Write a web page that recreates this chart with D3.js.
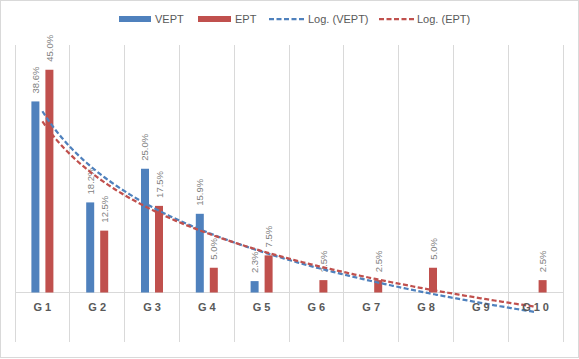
<!DOCTYPE html>
<html><head><meta charset="utf-8">
<script src="https://cdn.jsdelivr.net/npm/d3@7"></script>
<style>body{margin:0;background:#fff}svg{display:block}text{font-family:"Liberation Sans",Arial,sans-serif}</style>
</head><body>
<svg id="c" width="579" height="359"></svg>
<script>
const categories = ["G1","G2","G3","G4","G5","G6","G7","G8","G9","G10"];
const seriesNames = ["VEPT","EPT"];
const vept = [38.6, 18.2, 25.0, 15.9, 2.3, 0, 0, 0, 0, 0];
const ept  = [45.0, 12.5, 17.5, 5.0, 7.5, 2.5, 2.5, 5.0, 0, 2.5];
const colors = {VEPT:"#4f81bd", EPT:"#c0504d"};
const yDomain = [-10, 50];

const svg = d3.select("#c");
svg.append("rect").attr("x",0.5).attr("y",0.5).attr("width",578).attr("height",357)
  .attr("fill","#fff").attr("stroke","#d9d9d9");

const plot = {l:15, r:563, t:45, b:342};
const x = d3.scaleBand().domain(categories).range([plot.l, plot.r]).padding(0);
const y = d3.scaleLinear().domain(yDomain).range([plot.b, plot.t]);
const x1 = d3.scaleBand().domain(seriesNames).range([x.bandwidth()/2-11, x.bandwidth()/2+11]).paddingInner(0.4286);

// vertical gridlines at category boundaries
const bounds = categories.map(c => x(c)).concat([plot.r]);
svg.append("g").selectAll("line").data(bounds).join("line")
  .attr("x1", d=>d).attr("x2", d=>d).attr("y1", plot.t).attr("y2", plot.b)
  .attr("stroke","#d9d9d9").attr("stroke-width",1).attr("shape-rendering","crispEdges");

// axis line at 0
svg.append("line").attr("x1",plot.l).attr("x2",plot.r).attr("y1",y(0)).attr("y2",y(0))
  .attr("stroke","#d9d9d9").attr("shape-rendering","crispEdges");

const data = {VEPT: vept, EPT: ept};
seriesNames.forEach(s => {
  const g = svg.append("g");
  const rows = categories.map((c,i)=>({c, v:data[s][i]}));
  g.selectAll("rect").data(rows.filter(d=>d.v>0)).join("rect")
    .attr("x", d=>x(d.c)+x1(s)).attr("width", x1.bandwidth())
    .attr("y", d=>y(d.v)).attr("height", d=>y(0)-y(d.v))
    .attr("fill", colors[s]);
  g.selectAll("text").data(rows.filter(d=>d.v>0)).join("text")
    .attr("transform", d=>`translate(${x(d.c)+x1(s)+x1.bandwidth()/2+3.5},${y(d.v)-8}) rotate(-90)`)
    .attr("font-size", "9.5px").attr("fill","#7f7f7f")
    .text(d=>d.v.toFixed(1)+"%");
});

// logarithmic trendlines (least-squares fit y = a + b ln x)
function logFit(vals){
  const xs = vals.map((_,i)=>Math.log(i+1));
  const mx = d3.mean(xs), my = d3.mean(vals);
  let sxy=0, sxx=0;
  xs.forEach((lx,i)=>{ sxy += (lx-mx)*(vals[i]-my); sxx += (lx-mx)*(lx-mx); });
  const b = sxy/sxx, a = my - b*mx;
  return t => a + b*Math.log(t);
}
const xc = t => plot.l + (t-0.5)*x.step();
seriesNames.forEach(s => {
  const f = logFit(data[s]);
  const pts = d3.range(1, 10.001, 0.05).map(t=>[xc(t), y(f(t))]);
  svg.append("path").attr("d", d3.line()(pts)).attr("fill","none")
    .attr("stroke", colors[s]).attr("stroke-width",2.25).attr("stroke-dasharray","5,2.5");
});

// category labels
svg.append("g").selectAll("text").data(categories).join("text")
  .attr("x", d=>x(d)+x.bandwidth()/2+1.5).attr("y", 311)
  .attr("text-anchor","middle").attr("font-size","11px").attr("fill","#595959")
  .attr("letter-spacing","3px").attr("font-weight","bold")
  .text(d=>d);

// legend
const lg = svg.append("g").attr("font-size","11px").attr("fill","#595959");
lg.append("rect").attr("x",119).attr("y",16).attr("width",32).attr("height",6).attr("fill",colors.VEPT);
lg.append("text").attr("x",155).attr("y",23).text("VEPT").attr("fill","#595959");
lg.append("rect").attr("x",198).attr("y",16).attr("width",33).attr("height",6).attr("fill",colors.EPT);
lg.append("text").attr("x",235).attr("y",23).text("EPT").attr("fill","#595959");
lg.append("line").attr("x1",269).attr("x2",305).attr("y1",19).attr("y2",19).attr("stroke",colors.VEPT).attr("stroke-width",2.25).attr("stroke-dasharray","5,2.5");
lg.append("text").attr("x",308).attr("y",23).text("Log. (VEPT)").attr("fill","#595959");
lg.append("line").attr("x1",379).attr("x2",414).attr("y1",19).attr("y2",19).attr("stroke",colors.EPT).attr("stroke-width",2.25).attr("stroke-dasharray","5,2.5");
lg.append("text").attr("x",417).attr("y",23).text("Log. (EPT)").attr("fill","#595959");
</script>
</body></html>
